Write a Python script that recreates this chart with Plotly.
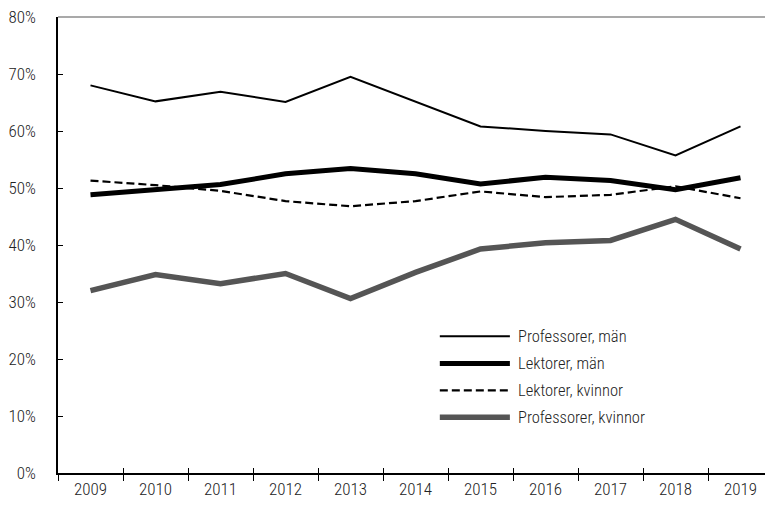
import plotly.graph_objects as go

years = ["2009", "2010", "2011", "2012", "2013", "2014", "2015", "2016", "2017", "2018", "2019"]
prof_man = [68.0, 65.2, 66.9, 65.1, 69.5, 65.1, 60.8, 60.0, 59.4, 55.7, 60.8]
lekt_man = [48.8, 49.7, 50.6, 52.5, 53.4, 52.5, 50.7, 51.9, 51.3, 49.7, 51.8]
lekt_kv = [51.3, 50.5, 49.5, 47.7, 46.8, 47.7, 49.4, 48.4, 48.8, 50.3, 48.2]
prof_kv = [32.0, 34.8, 33.2, 35.0, 30.6, 35.2, 39.3, 40.4, 40.8, 44.5, 39.3]
y_ticks = [0, 10, 20, 30, 40, 50, 60, 70, 80]
y_labels = ["0%", "10%", "20%", "30%", "40%", "50%", "60%", "70%", "80%"]

FONT = "Roboto Condensed, Liberation Sans Narrow, sans-serif"
TXT = "#222222"

series = [
    ("Professorer, män", prof_man, dict(color="#000000", width=2)),
    ("Lektorer, män", lekt_man, dict(color="#000000", width=5)),
    ("Lektorer, kvinnor", lekt_kv, dict(color="#000000", width=2.2, dash="8px,4px")),
    ("Professorer, kvinnor", prof_kv, dict(color="#555555", width=5.5)),
]

fig = go.Figure()
for name, vals, line in series:
    fig.add_trace(go.Scatter(x=years, y=vals, mode="lines", name=name, line=line, showlegend=False))
# invisible trace on overlay axis for crossing ticks
fig.add_trace(go.Scatter(x=years, y=prof_man, xaxis="x2", mode="lines",
                         line=dict(width=0), showlegend=False, hoverinfo="skip"))

# manual legend (70px sample lines, like the reference)
leg_x0, leg_x1, leg_tx = 0.534, 0.632, 0.640
leg_y = [0.300, 0.240, 0.181, 0.122]
for (name, _, line), ly in zip(series, leg_y):
    fig.add_shape(type="line", xref="paper", yref="paper", x0=leg_x0, x1=leg_x1, y0=ly, y1=ly,
                  line=line)
    fig.add_annotation(xref="paper", yref="paper", x=leg_tx, y=ly, text=name, showarrow=False,
                       xanchor="left", yanchor="middle",
                       font=dict(family=FONT, size=16.5, color=TXT, weight=300))

fig.update_layout(
    width=765, height=499,
    margin=dict(l=50, r=0, t=9, b=34),
    paper_bgcolor="white", plot_bgcolor="white",
    font=dict(family=FONT, size=17, color=TXT, weight=300),
    showlegend=False,
    xaxis=dict(type="category", range=[-0.5, 10.5], showgrid=False, showline=True,
               linecolor="#000000", linewidth=1.5, automargin=False,
               ticks="outside", ticklen=6, tickcolor="#000000", tickwidth=1,
               tickson="boundaries", zeroline=False, ticklabeloverflow="allow"),
    xaxis2=dict(type="category", overlaying="x", matches="x", side="bottom", showgrid=False,
                showline=False, ticks="inside", ticklen=5, tickcolor="#000000", tickwidth=1,
                tickson="boundaries", showticklabels=False, anchor="y", automargin=False),
    yaxis=dict(range=[0, 80], tickvals=y_ticks, ticktext=y_labels, showgrid=False,
               showline=True, linecolor="#000000", linewidth=1.5, automargin=False,
               ticks="inside", ticklen=5, tickcolor="#000000", tickwidth=1,
               zeroline=False, ticklabelstandoff=17, ticklabeloverflow="allow"),
)
fig.add_shape(type="line", xref="paper", yref="paper", x0=0, x1=1, y0=1, y1=1,
              line=dict(color="#555555", width=1.2))

fig.write_html("out.html")
